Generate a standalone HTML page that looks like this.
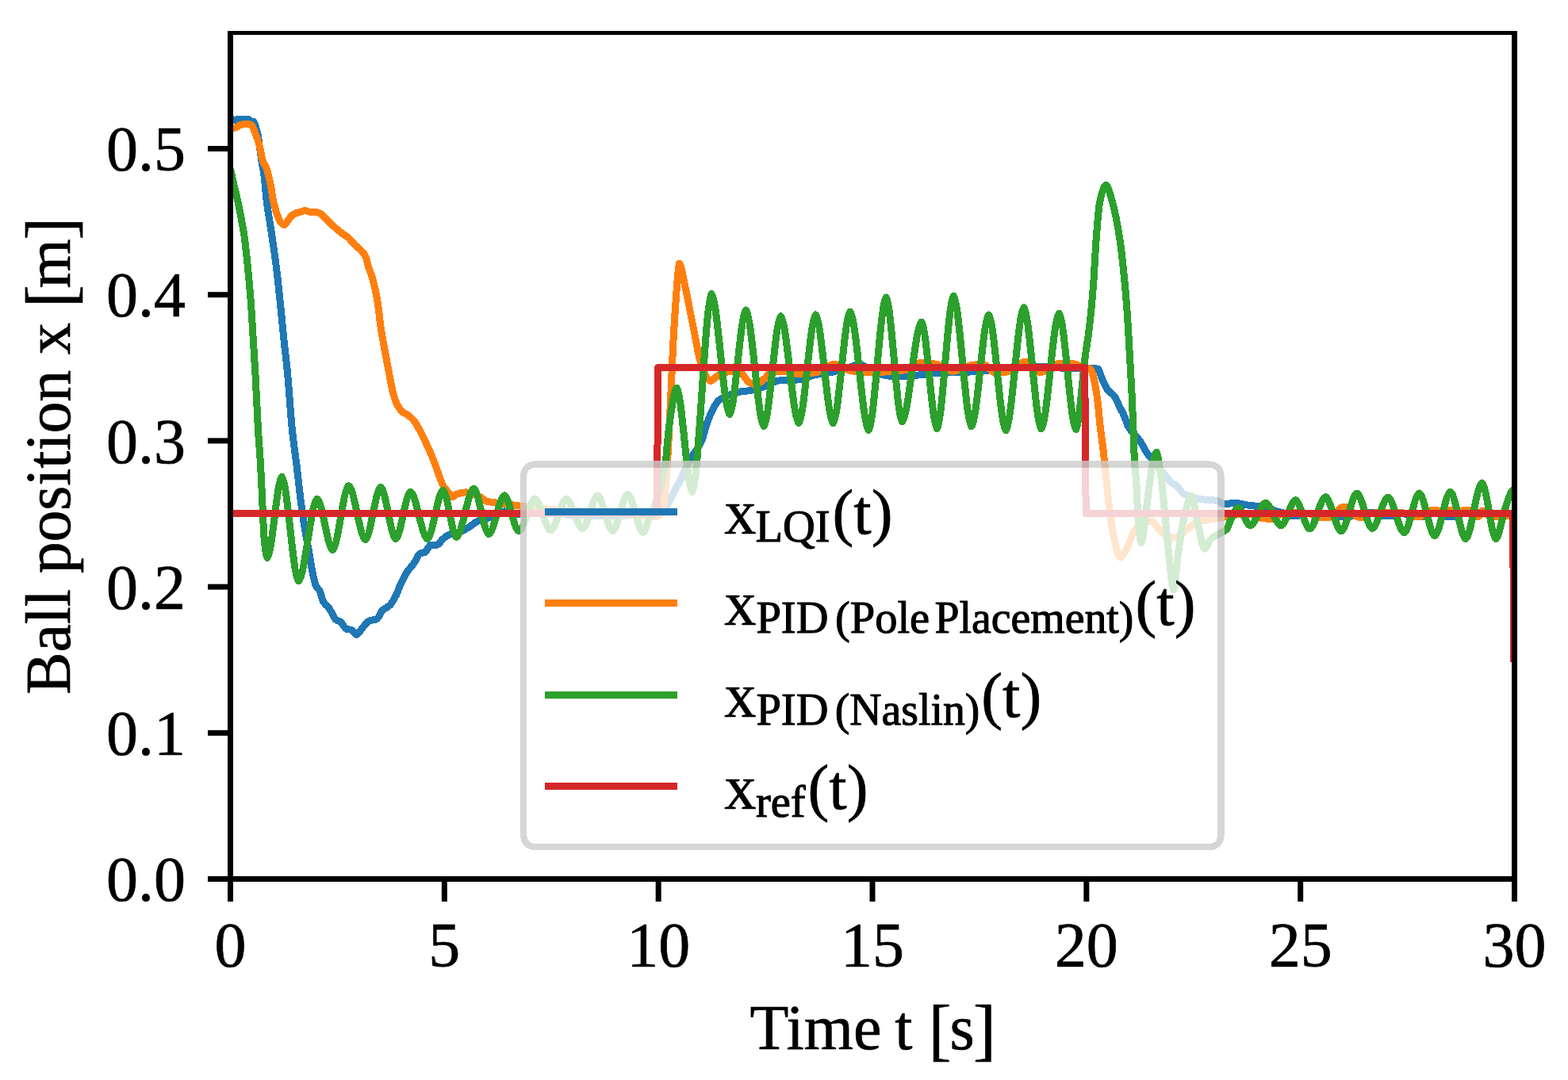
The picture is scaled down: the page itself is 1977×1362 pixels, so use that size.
<!DOCTYPE html>
<html lang="en">
<head>
<meta charset="utf-8">
<title>Ball position x [m] vs Time t [s]</title>
<style>
html,body{margin:0;padding:0;background:#fff;}
body{width:1977px;height:1362px;overflow:hidden;}
svg{display:block;}
text{font-family:"Liberation Serif", "DejaVu Serif", serif;fill:#000;stroke:#000;stroke-width:0.7px;stroke-linejoin:round;}
.tick{font-size:80px;}
.lab{font-size:80px;}
.leg{font-size:80.5px;}
.sub{font-size:56.5px;stroke-width:1.1px;}
.ln{fill:none;stroke-width:9;stroke-linejoin:round;stroke-linecap:butt;shape-rendering:crispEdges;}
</style>
</head>
<body>
<svg width="1977" height="1362" viewBox="0 0 1977 1362">
<rect x="0" y="0" width="1977" height="1362" fill="#ffffff"/>
<defs><clipPath id="ax"><rect x="290.5" y="41.5" width="1619" height="1067"/></clipPath></defs>
<g clip-path="url(#ax)">
<path class="ln" stroke="#1f77b4" d="M290.5,150.7C291.7,150.7 292.8,150.7 294,150.7C294.8,150.7 295.5,152 296.3,152C297,152 297.8,150.7 298.5,150.7C303.5,150.7 308.5,150.7 313.5,150.7C314.5,150.7 315.5,152.9 316.5,153C317.5,153.1 318.5,153.1 319.5,153.2C320.2,153.3 320.8,155.4 321.5,157C322.2,158.6 322.8,161.5 323.5,164C324.1,166.2 324.7,168.1 325.3,171.2C325.7,173.4 326.2,177.1 326.6,180C327,182.5 327.3,184.9 327.7,187.4C328.5,193.1 329.4,199.8 330.2,205C331,210.2 331.9,213.2 332.7,219C333.9,227.6 335.2,245.1 336.4,254.9C338.3,270 340.2,279.4 342.1,292.3C344.2,306.3 346.2,319.5 348.3,336C350,349.3 351.6,365.5 353.3,381.5C354.8,395.9 356.3,412.5 357.8,427C359.4,442.8 361.1,455.3 362.7,472.5C364.6,492.5 366.5,523.7 368.4,542C370.3,560.3 372.2,571.8 374.1,587.5C375.9,602.1 377.6,619.3 379.4,633C380.7,642.8 381.9,652 383.2,660C385,671.4 386.8,680.1 388.6,690.3C390.4,700.3 392.1,712.4 393.9,720.7C395.4,727.8 396.9,735.9 398.4,738.9C399.9,742 401.5,742.2 403,745C404.5,747.8 406,756.1 407.5,758.6C409.8,762.4 412.1,763.1 414.4,766.2C415.9,768.2 417.4,771.3 418.9,773.8C420.4,776.4 422,780.2 423.5,781.4C425.5,783 427.5,783 429.5,784.4C432,786.2 434.6,792.9 437.1,793.5C439.1,794 441.2,793.8 443.2,794.3C445.3,794.8 447.5,800.1 449.6,800.3C452,800 454.4,794.6 456.8,792C459.8,788.7 462.9,784.1 465.9,782.9C469,781.7 472,782 475.1,780.6C477.4,779.6 479.6,772.2 481.9,770C485.2,766.8 488.4,766.4 491.7,763.2C494.2,760.7 496.8,756 499.3,751C501.3,747 503.4,740.2 505.4,735.9C508.2,730 510.9,724.8 513.7,720.7C516.5,716.5 519.3,714.1 522.1,710.1C524.6,706.5 527.2,699 529.7,697.9C531.7,697.1 533.8,697.2 535.8,696.4C538.3,695.4 540.8,687.3 543.3,687.3C545.8,687.3 548.4,687.3 550.9,687.3C553.4,687.3 556,681.7 558.5,679.7C561.5,677.3 564.6,674.5 567.6,673.7C570.1,673 572.7,673 575.2,672.4C580.2,671.2 585.3,668.3 590.3,665.5C594.2,663.3 598.1,658.9 602,657.3C606.9,655.2 611.8,655 616.7,653C619.1,652 621.6,649.7 624,648.5C626,647.5 628,646.5 630,646C632,645.5 634,644.9 636,644.9C637.7,644.9 639.3,645.4 641,645.8C642.7,646.2 644.3,648 646,648C651.3,648 656.7,648 662,648C666.3,648 670.7,647.2 675,646.5C678.7,645.9 682.3,643 686,643C690.7,643 695.3,643 700,643C703.3,643 706.7,645.8 710,647C712.7,647.9 715.3,649.3 718,649.5C723.7,649.8 729.3,649.9 735,650C743.3,650.2 751.7,650.5 760,650.5C770,650.5 780,650.2 790,650C798.3,649.8 806.7,649 815,649C820.7,649 826.3,649 832,649C834,649 836,646.4 838,644C840,641.7 841.9,635.9 843.9,632C846.1,627.6 848.3,623.2 850.5,619C852.9,614.3 855.4,610.1 857.8,605.2C860.2,600.4 862.6,594.8 865,590C867.6,584.9 870.1,579.7 872.7,575.4C874.8,571.9 876.9,569.5 879,566C881,562.7 883,559.7 885,555C887,550.3 889,540.6 891,535C893.5,527.9 896.1,521.5 898.6,516.7C901.1,511.9 903.7,507.1 906.2,505C910.3,501.7 914.3,500.1 918.4,498.5C923.4,496.6 928.5,494.9 933.5,494C937.6,493.3 941.6,493.2 945.7,492.5C951.8,491.5 957.8,489.5 963.9,487.5C970,485.5 976,480.5 982.1,480C989.7,479.4 997.3,479.6 1004.9,479C1012.5,478.4 1020,474.4 1027.6,472.8C1035.2,471.2 1042.8,470.5 1050.4,469C1056.9,467.7 1063.5,466 1070,464C1074.3,462.7 1078.7,459.2 1083,459C1087,459.2 1091,463.1 1095,465C1100,467.4 1105,470.8 1110,472C1115,473.2 1120,474.3 1125,474.4C1130,474.5 1135,474.5 1140,474.5C1147.7,474.4 1155.3,473.2 1163,472.5C1170.7,471.8 1178.3,470.3 1186,470C1194,469.7 1202,469.7 1210,469.5C1220,469.2 1230,468.8 1240,468C1247.3,467.4 1254.7,464.6 1262,464C1271.3,463.2 1280.7,462.5 1290,462.5C1300,462.5 1310,462.5 1320,462.5C1328.3,462.5 1336.7,464.5 1345,464.5C1350.7,464.5 1356.3,464.5 1362,464.5C1367.3,464.5 1372.7,464.5 1378,464.5C1380,464.5 1382,464.8 1384,465.2C1386,465.6 1388.1,474.6 1390.1,478.9C1392.1,483.1 1394.1,488.3 1396.1,491C1399.2,495.2 1402.2,495.9 1405.3,500.1C1407.3,502.8 1409.3,508.3 1411.3,512.3C1413.3,516.4 1415.4,519.7 1417.4,524.4C1418.9,527.9 1420.4,533.6 1421.9,536.5C1423.9,540.5 1426,543.1 1428,545.6C1430,548 1432,549.3 1434,551.7C1436.1,554.2 1438.1,557.5 1440.2,560.8C1442.2,564 1444.2,568.5 1446.2,571.4C1448.2,574.4 1450.3,576.4 1452.3,579C1455.2,582.6 1458.1,586.5 1461,590C1463.7,593.2 1466.3,596.2 1469,599.4C1471.5,602.4 1474.1,606.5 1476.6,608.5C1479.1,610.5 1481.7,611.1 1484.2,613.1C1486.7,615.1 1489.2,620.6 1491.7,622.2C1496.8,625.4 1501.8,627.2 1506.9,628.3C1512,629.4 1517,630 1522.1,630.5C1526.1,630.9 1530.2,630.8 1534.2,631.3C1537.2,631.7 1540.3,635.7 1543.3,635.9C1547.9,635.8 1552.4,634.4 1557,634.3C1563.1,634.4 1569.1,636.6 1575.2,637.4C1580.3,638 1585.3,638.2 1590.4,638.9C1597,639.9 1603.5,643.2 1610.1,645C1613.4,645.9 1616.7,646.5 1620,647.5C1622.7,648.3 1625.3,650.5 1628,650.5C1630.7,650.5 1633.3,650.5 1636,650.5C1639,650.5 1642,647.7 1645,647.5C1651.7,647.2 1658.3,647 1665,647C1670.7,647.1 1676.3,651 1682,651C1689.3,651 1696.7,651 1704,651C1707.7,651 1711.3,647.9 1715,647.5C1720,646.9 1725,646.5 1730,646.5C1734,646.6 1738,650.5 1742,650.5C1747,650.5 1752,650.5 1757,650.5C1760.7,650.5 1764.3,647.6 1768,647.5C1772.7,647.6 1777.3,651.5 1782,651.5C1786,651.5 1790,651.5 1794,651.5C1797,651.5 1800,648 1803,647.5C1806,647 1809,646.5 1812,646.5C1815.3,646.7 1818.7,651.5 1822,651.5C1825.7,651.5 1829.3,651.5 1833,651.5C1836,651.5 1839,647.8 1842,647.5C1848,646.9 1854,646.5 1860,646.5C1865,646.5 1870,646.9 1875,647.5C1878.7,647.9 1882.3,651.5 1886,651.5C1887.7,651.5 1889.3,651.5 1891,651.5C1893.3,651.5 1895.7,647.5 1898,647.5C1901.8,647.5 1905.7,647.5 1909.5,647.5"/>
<path class="ln" stroke="#ff7f0e" d="M290.5,160C292,160.9 293.5,161.3 295,161.3C296.3,161.3 297.7,160.6 299,160C300.5,159.4 302,157.4 303.5,157.2C305.7,156.9 307.8,156.8 310,156.8C312,156.8 314,156.9 316,157C317,157.1 318,159.3 319,161C320,162.7 321,165.9 322,168.5C323.4,172.1 324.8,175.2 326.2,180C327.2,183.6 328.3,189.7 329.3,194C330.2,197.9 331.2,202.7 332.1,205C333.2,207.8 334.4,208.3 335.5,211C336.5,213.3 337.4,217.4 338.4,221C339.1,223.8 339.9,226.6 340.6,230C342.1,236.9 343.5,248.8 345,255C346.9,262.9 348.7,269.1 350.6,273.6C351.9,276.7 353.1,279.7 354.4,281C355.7,282.3 357,283.5 358.3,283.6C359.8,283.4 361.2,280.5 362.7,278.7C364,277.1 365.2,274.7 366.5,273.4C368,271.9 369.5,270.6 371,269.9C373.5,268.7 376.1,268.1 378.6,267.3C380.6,266.7 382.7,265.6 384.7,265.5C386.7,265.6 388.8,267.3 390.8,267.3C392.8,267.3 394.8,267.3 396.8,267.3C399.3,267.3 401.9,268.4 404.4,269.6C406.4,270.6 408.5,273.6 410.5,275.6C412.5,277.6 414.6,279.8 416.6,281.7C419.1,284.1 421.7,286.3 424.2,288.5C426.7,290.6 429.2,292.7 431.7,294.6C434.2,296.5 436.8,297.7 439.3,299.9C441.8,302.1 444.4,305.8 446.9,308.3C449.4,310.8 452,312.4 454.5,315.1C456.5,317.2 458.6,318.8 460.6,322.7C461.9,325.1 463.1,332 464.4,336C466.2,341.6 467.9,345 469.7,351.2C471.9,358.8 474,368.5 476.2,381.5C477.5,389.1 478.7,403.2 480,411.8C481.7,423.6 483.5,432.5 485.2,442.2C487.1,452.8 489,462.8 490.9,472.5C492.4,480.4 494,489.7 495.5,495.3C497.3,501.7 499,507.1 500.8,510.4C503.1,514.6 505.3,517.6 507.6,519.5C510.1,521.6 512.7,522.2 515.2,524.1C517.7,526 520.3,528.5 522.8,531.7C524.8,534.3 526.9,538.3 528.9,542C531.4,546.6 533.9,551.9 536.4,557.2C538.7,562 541,566.9 543.3,572.3C545.3,577 547.3,582.2 549.3,587.5C551.1,592.3 552.9,598.1 554.7,602.7C556.2,606.5 557.7,610.8 559.2,613.3C561.2,616.7 563.3,618.6 565.3,620.9C567.1,622.9 568.8,626.4 570.6,626.6C572.4,626.5 574.1,623.9 575.9,623.2C577.3,622.7 578.6,622.3 580,622C582.4,621.5 584.9,620.9 587.3,620.9C590.5,621 593.8,622 597,623C600.3,624 603.7,625.8 607,627.7C609,628.9 611.1,631.7 613.1,632.2C616.6,633.1 620.2,633.2 623.7,633.7C631.3,634.8 638.9,635.7 646.5,636.8C650,637.3 653.6,637.9 657.1,638.3C662.9,639 668.8,639.4 674.6,640C683.1,640.9 691.5,642.3 700,643C710,643.9 720,644.4 730,645C740,645.6 750,645.9 760,646.5C770,647.1 780,647.7 790,648.5C798.3,649.2 806.7,651 815,651C820,651 825,651 830,651C832.1,651 834.3,646.4 836.4,639.6C837.9,634.7 839.5,611 841,590C842.5,569.5 844,536.7 845.5,506C846.5,484.8 847.6,455.9 848.6,436.5C849.9,412.8 851.1,392.4 852.4,375.9C853.7,358.6 855.1,333.7 856.4,332.2C858.8,333.1 861.3,350 863.7,360.7C865.7,369.6 867.8,380.9 869.8,391C871.8,401.1 873.9,411.2 875.9,421.4C877.9,431.4 879.9,444.2 881.9,451.7C883.9,459.3 886,466 888,469.9C890.5,474.8 893.1,480.1 895.6,480.5C899.1,480.2 902.7,474.4 906.2,472.9C911.3,470.7 916.3,468.5 921.4,468.4C925.4,468.4 929.5,469 933.5,469.9C937.1,470.7 940.6,480.2 944.2,482C947.2,483.6 950.3,485 953.3,485.1C956.8,484.8 960.4,480.3 963.9,477.5C967.4,474.7 971,468.4 974.5,468.4C979.6,468.4 984.6,468.4 989.7,468.4C994.8,468.4 999.8,471.3 1004.9,471.4C1012.5,471.3 1020,470.8 1027.6,469.9C1035.7,469 1043.8,459.7 1051.9,459.3C1058,459.6 1064,465.5 1070.1,466.9C1076.2,468.3 1082.2,469.8 1088.3,469.9C1105.8,469.8 1123.2,468.9 1140.7,466.8C1147.3,466 1153.8,458 1160.4,457.7C1167,457.8 1173.6,458.4 1180.2,459.2C1187.3,460.1 1194.3,468 1201.4,468.3C1209,468 1216.6,461.8 1224.2,460.7C1229.2,460 1234.3,459.2 1239.3,459.2C1244.4,459.6 1249.4,469.8 1254.5,469.8C1258.5,469.8 1262.6,469.8 1266.6,469.8C1271.2,469.8 1275.7,464.7 1280.3,462.3C1284.3,460.2 1288.4,456.4 1292.4,456.2C1298.5,456.7 1304.6,469.3 1310.7,469.8C1314.7,469.7 1318.8,467.1 1322.8,465.3C1326.8,463.5 1330.9,458.5 1334.9,458.5C1340.5,458.5 1346,458.5 1351.6,458.5C1355.7,458.5 1359.7,461.1 1363.8,462.3C1367.5,463.3 1371.2,463.2 1374.9,465.2C1376.4,466 1378,472.8 1379.5,478.9C1381,484.9 1382.5,494.6 1384,506.2C1385,513.9 1386,527.8 1387,536.5C1388.2,546.6 1389.3,553.2 1390.5,563C1391.8,574.2 1393.2,588.5 1394.5,601C1396.3,617.9 1398.1,638.4 1399.9,651C1401.7,663.6 1403.5,674.2 1405.3,681.4C1407.7,691 1410.1,702.4 1412.5,703.1C1415.6,702.6 1418.8,694.8 1421.9,688.9C1424.4,684.2 1427,674.4 1429.5,670.7C1433,665.6 1436.5,661.4 1440,660C1444.1,658.4 1448.2,657.2 1452.3,657.1C1455.3,657.5 1458.4,664.7 1461.4,667.7C1464.4,670.7 1467.5,673.9 1470.5,675.3C1473.5,676.7 1476.6,678.2 1479.6,678.3C1483.6,678.1 1487.7,674.9 1491.7,672.3C1494.5,670.5 1497.2,667.1 1500,665C1503.3,662.5 1506.7,659.8 1510,658.6C1514,657.1 1518.1,656.4 1522.1,655.6C1527.2,654.6 1532.2,654.1 1537.3,653.3C1544.9,652 1552.4,649.7 1560,649C1565,648.5 1570,648 1575,648C1580.2,648.2 1585.5,652.9 1590.7,653.5C1595.8,654.1 1600.8,654.5 1605.9,654.5C1608.9,654.3 1612,649.1 1615,648.5C1621.7,647.2 1628.3,646.6 1635,646.5C1640,646.5 1645,646.9 1650,647.5C1654.5,648 1659,652.5 1663.5,652.5C1667.6,652.5 1671.6,652.5 1675.7,652.5C1678.8,652.5 1681.9,648.6 1685,646C1687,644.3 1689,640.3 1691,640C1693.3,639.7 1695.7,639.5 1698,639.5C1700.3,639.7 1702.7,643.9 1705,646C1707.3,648.1 1709.7,652 1712,652C1714.7,652 1717.3,652 1720,652C1722.7,652 1725.3,647.9 1728,647.5C1735.3,646.5 1742.7,646 1750,646C1758.3,646 1766.7,646.5 1775,647.5C1778.3,647.9 1781.7,651.5 1785,651.5C1787,651.5 1789,651.5 1791,651.5C1793,651.5 1795,648.1 1797,647C1800,645.3 1803,643.1 1806,643C1808,643 1810,643.2 1812,643.5C1814,643.8 1816,647.9 1818,648C1820.7,647.9 1823.3,643.5 1826,643.5C1827.7,643.5 1829.3,643.5 1831,643.5C1833,643.5 1835,647.9 1837,648C1839.7,647.9 1842.3,643.5 1845,643.5C1847.7,643.5 1850.3,643.5 1853,643.5C1855,643.5 1857,646.8 1859,648.5C1860.3,649.6 1861.7,651.9 1863,652C1864,651.9 1865,651 1866,650C1867,649 1868,644.2 1869,644C1870,644.1 1871,646.9 1872,647.5C1875.7,649.8 1879.3,651.5 1883,651.5C1885.3,651.5 1887.7,651.5 1890,651.5C1891.7,651.5 1893.3,647.6 1895,647.5C1897,647.6 1899,650.9 1901,651C1903.8,650.9 1906.7,651 1909.5,649"/>
<path class="ln" stroke="#2ca02c" d="M290.5,213C292,219.8 293.5,226.5 295,233C296.4,239.2 297.9,244.8 299.3,251.4C301.2,260.1 303.1,269.5 305,280C306.1,286.1 307.2,292.1 308.3,300C309.6,309.6 311,322.8 312.3,336C313.7,349.6 315,363.3 316.4,381.5C317.3,394 318.3,411.8 319.2,427C320.1,442.2 321.1,455.9 322,472.5C323.2,493.3 324.3,522.4 325.5,542C326.5,559.4 327.6,569.6 328.6,587.5C329.3,600.2 330.1,618.2 330.8,633C331.6,648.5 332.3,670.6 333.1,678.5C334.4,691.6 335.6,702.8 336.9,703.6C343.1,700.2 349.2,604.7 355.4,601.3C362.4,605.7 369.4,728.4 376.4,732.8C384.2,729.3 392.1,632.7 399.9,629.2C406.4,631.3 412.9,691.5 419.4,693.6C426.1,690.9 432.9,615.2 439.6,612.5C446.6,614.8 453.7,678.3 460.7,680.6C467.1,678.4 473.6,616.4 480,614.2C486.3,616.4 492.6,677.4 498.9,679.6C505.1,677.6 511.3,622.3 517.5,620.3C524.6,622.3 531.8,677.6 538.9,679.6C545.4,677.6 552,620.3 558.5,618.3C564.2,620.3 569.8,675.4 575.5,677.4C582.7,675.4 590,618.1 597.2,616.1C603.6,618 609.9,671.7 616.3,673.6C622.8,672 629.4,626.5 635.9,624.9C642,626.4 648,668.3 654.1,669.8C660.9,668.4 667.8,630.4 674.6,629C681.2,630.3 687.7,667.5 694.3,668.8C700.9,667.5 707.4,630.3 714,629C720.8,630.3 727.7,665.5 734.5,666.8C740.8,665.4 747.2,626.3 753.5,624.9C759.8,626.4 766.1,668.3 772.4,669.8C778.7,668.3 785.1,624.9 791.4,623.4C798,625 804.5,670.1 811.1,671.7C813.4,671.1 815.7,660.3 818,655C820.3,649.8 822.5,646 824.8,640C827.5,632.7 830.3,623 833,612C835.2,603.3 837.3,596.5 839.5,580.6C840.1,576.2 840.7,566 841.3,560C842.6,546.9 843.9,534.1 845.2,525.9C847.8,509.3 850.5,490.3 853.1,489.1C859.7,493.5 866.2,616 872.8,620.4C880.9,612.1 889,379.1 897.1,370.8C904.7,375.9 912.3,517.4 919.9,522.5C926.7,518.1 933.6,395.4 940.4,391C948,395.9 955.5,532.5 963.1,537.4C970.2,532.8 977.3,403.5 984.4,398.9C992,403.4 999.5,529.1 1007.1,533.6C1014.2,529 1021.3,401.5 1028.4,396.9C1035.7,401.5 1043.1,529 1050.4,533.6C1057.6,528.9 1064.7,397.8 1071.9,393.1C1079.7,398.1 1087.4,537.6 1095.2,542.6C1102.5,537 1109.9,380.6 1117.2,375C1123.9,380.2 1130.7,526.5 1137.4,531.7C1145.6,527.5 1153.7,410.3 1161.9,406.1C1168.4,410.6 1174.9,536 1181.4,540.5C1188.3,534.9 1195.3,378.7 1202.2,373.1C1209.8,378.6 1217.3,532.3 1224.9,537.8C1232.1,533.1 1239.4,401.7 1246.6,397C1253.8,401.9 1261,537.8 1268.2,542.7C1275.8,537.5 1283.3,393.1 1290.9,387.9C1298.2,393 1305.6,535.7 1312.9,540.8C1320.4,535.9 1327.8,400.1 1335.3,395.2C1342.4,400.1 1349.5,536.6 1356.6,541.5C1360.7,538.3 1364.7,475 1368.8,445.5C1370.2,435.1 1371.7,427.7 1373.1,416C1374.9,401.6 1376.6,384 1378.4,361.7C1379.7,345.7 1380.9,317.2 1382.2,301C1383.6,282.7 1385.1,262.3 1386.5,255.5C1389.1,243 1391.8,233.8 1394.4,233.1C1397.2,233.8 1399.9,245.8 1402.7,255.5C1405.7,266.1 1408.8,281.3 1411.8,301C1414.1,315.7 1416.3,337.3 1418.6,361.7C1419.6,372.5 1420.6,385.2 1421.6,400C1422.5,412.8 1423.3,430.3 1424.2,445.5C1425.1,460.7 1425.9,473.8 1426.8,491C1427.5,504.3 1428.1,520.1 1428.8,536.5C1429.4,550.5 1429.9,572.9 1430.5,582C1431.2,593.2 1431.9,595.4 1432.6,605.5C1433.3,616.1 1434.1,642 1434.8,651C1436.2,667.8 1437.5,683.7 1438.9,684.8C1441.3,683.2 1443.8,653 1446.2,635.8C1448.2,621.4 1450.3,599.9 1452.3,590.3C1454.2,581.2 1456.2,570.9 1458.1,570.2C1460.2,571.4 1462.3,590.3 1464.4,605.5C1465.9,616.6 1467.5,635.7 1469,651C1470.5,666 1472,683.3 1473.5,696.5C1475.5,714.4 1477.6,742.1 1479.6,743.7C1481.6,742.1 1483.7,710.6 1485.7,696.5C1487.7,682.6 1489.7,667.3 1491.7,658.6C1495.2,643.5 1498.6,626.6 1502.1,625.5C1504.7,626.6 1507.4,648.1 1510,658.6C1512.9,670.3 1515.9,691 1518.8,692.1C1521.4,691.7 1524,682.2 1526.6,679.8C1530.2,676.5 1533.7,675.2 1537.3,673C1540.3,671.2 1543.4,670.6 1546.4,667.7C1548.4,665.8 1550.4,657.8 1552.4,654.1C1555.4,648.5 1558.3,640.7 1561.3,640.2C1566.4,641 1571.4,662.1 1576.5,662.9C1582.9,661.9 1589.4,635.2 1595.8,634.2C1602.3,635.2 1608.8,661.9 1615.3,662.9C1621.3,661.8 1627.4,631.9 1633.4,630.8C1639.4,632 1645.4,665.8 1651.4,667C1658,665.7 1664.5,628 1671.1,626.7C1677.8,628.1 1684.5,668.6 1691.2,670C1697.7,668.4 1704.3,623.6 1710.8,622C1717.3,623.5 1723.8,665.1 1730.3,666.6C1736.9,665.3 1743.4,628.3 1750,627C1756.8,628.5 1763.7,670.3 1770.5,671.8C1776.8,670.1 1783.1,623.7 1789.4,622C1795.9,623.8 1802.5,673.9 1809,675.7C1815.6,673.9 1822.1,622.1 1828.7,620.2C1835.1,622.2 1841.6,677.6 1848,679.6C1854.8,677.2 1861.7,611.3 1868.5,608.9C1874.4,611.3 1880.2,677.2 1886.1,679.6C1889.8,678.4 1893.5,655 1897.2,643.5C1899.1,637.5 1901.1,630.4 1903,626C1904.3,622.9 1905.7,618.7 1907,618.4C1907.8,618.4 1908.7,618.4 1909.5,618.8"/>
<path class="ln" stroke="#d62728" d="M290.5,647.6L828.5,647.6L829.6,463.6L1367.7,463.6L1369.2,647.6L1907.5,647.6L1908.9,835"/>
</g>
<g stroke="#000" fill="none">
<line x1="287" y1="41.5" x2="1913" y2="41.5" stroke-width="5"/>
<line x1="287" y1="1108.5" x2="1913" y2="1108.5" stroke-width="7"/>
<line x1="290.5" y1="39" x2="290.5" y2="1112" stroke-width="7"/>
<line x1="1909.5" y1="39" x2="1909.5" y2="1112" stroke-width="7"/>
<line x1="290.50" y1="1108.5" x2="290.50" y2="1137" stroke-width="7"/>
<line x1="560.33" y1="1108.5" x2="560.33" y2="1137" stroke-width="7"/>
<line x1="830.17" y1="1108.5" x2="830.17" y2="1137" stroke-width="7"/>
<line x1="1100.00" y1="1108.5" x2="1100.00" y2="1137" stroke-width="7"/>
<line x1="1369.83" y1="1108.5" x2="1369.83" y2="1137" stroke-width="7"/>
<line x1="1639.67" y1="1108.5" x2="1639.67" y2="1137" stroke-width="7"/>
<line x1="1909.50" y1="1108.5" x2="1909.50" y2="1137" stroke-width="7"/>
<line x1="262" y1="1108.50" x2="290.5" y2="1108.50" stroke-width="7"/>
<line x1="262" y1="924.30" x2="290.5" y2="924.30" stroke-width="7"/>
<line x1="262" y1="740.10" x2="290.5" y2="740.10" stroke-width="7"/>
<line x1="262" y1="555.90" x2="290.5" y2="555.90" stroke-width="7"/>
<line x1="262" y1="371.70" x2="290.5" y2="371.70" stroke-width="7"/>
<line x1="262" y1="187.50" x2="290.5" y2="187.50" stroke-width="7"/>
</g>
<g class="tick">
<text x="290.5" y="1219.3" text-anchor="middle">0</text>
<text x="560.3" y="1219.3" text-anchor="middle">5</text>
<text x="830.2" y="1219.3" text-anchor="middle">10</text>
<text x="1100.0" y="1219.3" text-anchor="middle">15</text>
<text x="1369.8" y="1219.3" text-anchor="middle">20</text>
<text x="1639.7" y="1219.3" text-anchor="middle">25</text>
<text x="1909.5" y="1219.3" text-anchor="middle">30</text>
<text x="234" y="1136.1" text-anchor="end">0.0</text>
<text x="234" y="951.9" text-anchor="end">0.1</text>
<text x="234" y="767.7" text-anchor="end">0.2</text>
<text x="234" y="583.5" text-anchor="end">0.3</text>
<text x="234" y="399.3" text-anchor="end">0.4</text>
<text x="234" y="215.1" text-anchor="end">0.5</text>
</g>
<text class="lab" y="1323"><tspan x="945.5">Time</tspan> <tspan x="1128.2">t</tspan> <tspan x="1170.7" dy="4.4" style="font-size:86.0px">[</tspan><tspan x="1197.6" dy="-4.4">s</tspan><tspan x="1227.1" dy="4.4" style="font-size:86.0px">]</tspan></text>
<text class="lab" transform="translate(88,875.8) rotate(-90)"><tspan x="0" textLength="468.8" lengthAdjust="spacing">Ball position x</tspan> <tspan x="487.8" dy="4.4" style="font-size:86.0px">[</tspan><tspan x="512.3" dy="-4.4">m</tspan><tspan x="573.2" dy="4.4" style="font-size:86.0px">]</tspan></text>
<g>
<g opacity="0.8"><path d="M676.75,585.5 L1522.80,585.5 Q1539.5,585.5 1539.5,602.20 L1539.5,1051.50 Q1539.5,1068.2 1522.80,1068.2 L676.75,1068.2 Q660.05,1068.2 660.05,1051.50 L660.05,602.20 Q660.05,585.5 676.75,585.5 Z" fill="#ffffff" stroke="#cccccc" stroke-width="8.33" stroke-linejoin="miter" shape-rendering="crispEdges"/></g>
<g class="ln">
<line x1="687" y1="645.5" x2="854" y2="645.5" stroke="#1f77b4"/>
<line x1="687" y1="760.8" x2="854" y2="760.8" stroke="#ff7f0e"/>
<line x1="687" y1="876.2" x2="854" y2="876.2" stroke="#2ca02c"/>
<line x1="687" y1="991.6" x2="854" y2="991.6" stroke="#d62728"/>
</g>
<text><tspan class="leg" x="913.3" y="672.8">x</tspan><tspan class="sub" x="952.4" y="682.8">LQI</tspan><tspan class="leg" x="1049.5" y="672.8">(t)</tspan></text>
<text><tspan class="leg" x="913.3" y="788.0">x</tspan><tspan class="sub" x="953.4" y="798.0">PID </tspan><tspan class="sub" x="1052.9" y="798.0">(Pole </tspan><tspan class="sub" x="1178.4" y="798.0" textLength="251.0" lengthAdjust="spacingAndGlyphs">Placement)</tspan><tspan class="leg" x="1431.5" y="788.0">(t)</tspan></text>
<text><tspan class="leg" x="913.3" y="904.0">x</tspan><tspan class="sub" x="953.4" y="914.0">PID </tspan><tspan class="sub" x="1052.7" y="914.0" textLength="182.7" lengthAdjust="spacingAndGlyphs">(Naslin)</tspan><tspan class="leg" x="1237.3" y="904.0">(t)</tspan></text>
<text><tspan class="leg" x="913.3" y="1019.9">x</tspan><tspan class="sub" x="952.9" y="1029.9">ref</tspan><tspan class="leg" x="1018.5" y="1019.9">(t)</tspan></text>
</g>
</svg>
</body>
</html>
